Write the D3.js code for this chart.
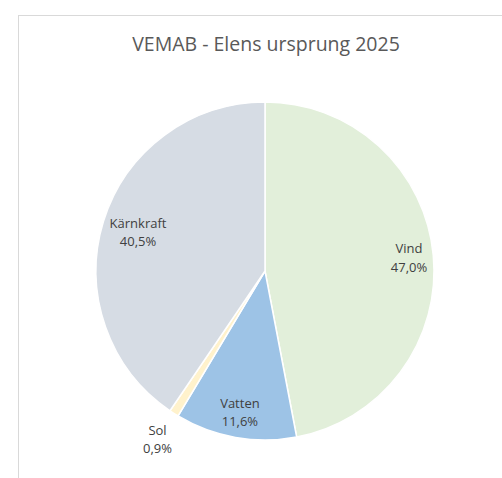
<!DOCTYPE html>
<html>
<head>
<meta charset="utf-8">
<script src="https://cdn.jsdelivr.net/npm/d3@7"></script>
<style>
  body { margin: 0; background: #fff; }
  svg text { font-family: "Open Sans", "Liberation Sans", sans-serif; }
</style>
</head>
<body>
<div id="chart"></div>
<script>
const title = 'VEMAB - Elens ursprung 2025';
const categories = ['Vind', 'Vatten', 'Sol', 'Kärnkraft'];
const shares = [47.0, 11.6, 0.9, 40.5];
const colors = ['#e2efda', '#9dc3e6', '#fff2cc', '#d6dce4'];

const width = 502, height = 478;
const cx = 265, cy = 271, radius = 169;

const svg = d3.select('#chart').append('svg')
	.attr('width', width)
	.attr('height', height);

// chart area border (runs off the right and bottom edge)
svg.append('rect')
	.attr('x', 18.5).attr('y', 15.5)
	.attr('width', 500).attr('height', 480)
	.attr('fill', '#fff')
	.attr('stroke', '#d9d9d9')
	.attr('stroke-width', 1);

svg.append('text')
	.attr('x', cx + 1).attr('y', 51)
	.attr('text-anchor', 'middle')
	.attr('font-size', 19.5)
	.attr('fill', '#595959')
	.text(title);

const data = categories.map((c, i) => ({ name: c, value: shares[i], color: colors[i] }));

const pie = d3.pie().sort(null).value(d => d.value);
const arc = d3.arc().innerRadius(0).outerRadius(radius);
const arcs = pie(data);

const g = svg.append('g').attr('transform', `translate(${cx},${cy})`);

g.selectAll('path.slice')
	.data(arcs)
	.join('path')
	.attr('class', 'slice')
	.attr('d', arc)
	.attr('fill', d => d.data.color)
	.attr('stroke', '#fff')
	.attr('stroke-width', 1.5);

const fmt = d3.formatLocale({ decimal: ',', thousands: ' ', grouping: [3], currency: ['', ' kr'] }).format('.1f');

const labels = g.selectAll('g.label')
	.data(arcs)
	.join('g')
	.attr('class', 'label');

labels.append('text')
	.attr('text-anchor', 'middle')
	.attr('font-size', 13)
	.attr('fill', '#404040')
	.selectAll('tspan')
	.data(d => [d.data.name, fmt(d.data.value) + '%'])
	.join('tspan')
	.attr('x', 0)
	.attr('dy', (d, i) => i === 0 ? '-0.25em' : '1.42em')
	.text(d => d);

// best-fit style placement: push label along mid angle until its box reaches the rim
labels.each(function(d) {
	const node = d3.select(this);
	const box = this.getBBox();
	const mid = (d.startAngle + d.endAngle) / 2;
	const ux = Math.sin(mid), uy = -Math.cos(mid);
	const small = d.endAngle - d.startAngle < 0.1;
	const ox = box.x + box.width / 2, oy = box.y + box.height / 2;
	let t;
	if (small) {
		t = radius * 1.18;
	} else {
		const hw = box.width / 2, hh = box.height / 2;
		let lo = 0, hi = radius;
		for (let k = 0; k < 40; k++) {
			t = (lo + hi) / 2;
			const px = ux * t, py = uy * t;
			const far = d3.max([[-1, -1], [1, -1], [-1, 1], [1, 1]],
				s => Math.hypot(px + s[0] * hw, py + s[1] * hh));
			if (far > radius * 0.98) hi = t; else lo = t;
		}
	}
	node.attr('transform', `translate(${ux * t - ox},${uy * t - oy})`);
});
</script>
</body>
</html>
